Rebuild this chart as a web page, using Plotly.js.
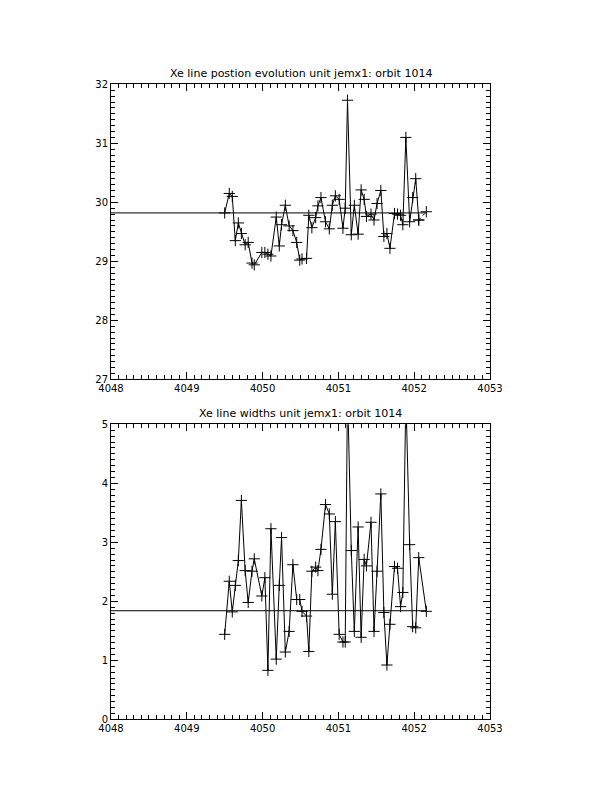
<!DOCTYPE html>
<html>
<head>
<meta charset="utf-8">
<script src="https://cdn.plot.ly/plotly-3.0.1.min.js"></script>
<style>
  body { margin: 0; background: #fff; }
  #plot { width: 612px; height: 792px; }
</style>
</head>
<body>
<div id="plot"></div>
<script>
// time axis, shared by both panels
var times = [4049.50, 4049.56, 4049.60, 4049.64, 4049.68, 4049.72, 4049.77, 4049.81, 4049.86, 4049.89,
  4049.99, 4050.03, 4050.07, 4050.11, 4050.18, 4050.22, 4050.25, 4050.30, 4050.35, 4050.40,
  4050.45, 4050.49, 4050.52, 4050.58, 4050.61, 4050.65, 4050.70, 4050.73, 4050.77, 4050.83,
  4050.88, 4050.92, 4050.96, 4051.01, 4051.06, 4051.09, 4051.12, 4051.17, 4051.21, 4051.26,
  4051.30, 4051.34, 4051.37, 4051.43, 4051.47, 4051.51, 4051.56, 4051.60, 4051.64, 4051.68,
  4051.74, 4051.78, 4051.82, 4051.85, 4051.89, 4051.94, 4051.98, 4052.02, 4052.06, 4052.16];

var positions = [29.82, 30.15, 30.10, 29.35, 29.65, 29.47, 29.28, 29.32, 28.97, 28.94,
  29.15, 29.15, 29.12, 29.09, 29.75, 29.26, 29.62, 29.95, 29.60, 29.52,
  29.32, 29.02, 29.04, 29.05, 29.78, 29.57, 29.74, 29.94, 30.08, 29.67,
  29.55, 29.95, 30.11, 30.05, 29.56, 29.90, 31.73, 29.45, 29.95, 29.46,
  30.21, 30.05, 29.76, 29.80, 29.70, 29.98, 30.20, 29.42, 29.47, 29.22,
  29.81, 29.80, 29.78, 29.62, 31.10, 29.67, 30.08, 30.40, 29.70, 29.84];

var widths = [1.44, 2.34, 1.82, 2.27, 2.69, 3.71, 2.52, 1.98, 2.51, 2.72,
  2.09, 2.40, 0.83, 3.23, 1.02, 2.27, 3.08, 1.14, 1.49, 2.62,
  2.03, 2.03, 1.83, 1.75, 1.15, 2.51, 2.58, 2.52, 2.88, 3.64,
  3.48, 2.12, 3.35, 1.44, 1.31, 1.31, 5.60, 2.86, 1.49, 3.26,
  1.39, 2.71, 2.60, 3.34, 1.49, 2.51, 3.82, 1.81, 0.92, 1.61,
  2.59, 2.56, 1.91, 2.15, 5.50, 2.96, 1.57, 1.55, 2.74, 1.83];

var meanPosition = 29.82;
var meanWidth = 1.84;

var xRange = [4048, 4053];
var posRange = [27, 32];
var widthRange = [0, 5];

var topTitle = 'Xe line postion evolution unit jemx1: orbit 1014';
var bottomTitle = 'Xe line widths unit jemx1: orbit 1014';

var n = times.length;
var lastT = times[n - 1];

var fnt = {family: 'DejaVu Sans, sans-serif', size: 10, color: '#000'};
var plus = {symbol: 'cross-thin-open', size: 8, line: {color: '#000', width: 1}};

function cross(x, y, xa, ya, dash) {
  return {
    x: x, y: y, xaxis: xa, yaxis: ya,
    type: 'scatter', mode: 'lines+markers',
    line: {color: '#000', width: 1, dash: dash || 'solid'},
    marker: plus, hoverinfo: 'skip'
  };
}

function meanLine(val, xa, ya) {
  return {
    x: [xRange[0], lastT], y: [val, val], xaxis: xa, yaxis: ya,
    type: 'scatter', mode: 'lines',
    line: {color: '#000', width: 1}, hoverinfo: 'skip'
  };
}

var data = [
  meanLine(meanPosition, 'x', 'y'),
  cross(times.slice(0, n - 1), positions.slice(0, n - 1), 'x', 'y'),
  // last segment of the top curve is dotted in the original
  cross(times.slice(n - 2), positions.slice(n - 2), 'x', 'y', 'dot'),
  meanLine(meanWidth, 'x2', 'y2'),
  cross(times, widths, 'x2', 'y2')
];

function xax(anchor) {
  return {
    anchor: anchor, domain: [111 / 612, 490 / 612], range: xRange,
    dtick: 1, tick0: 4048, ticks: 'inside', ticklen: 7, tickwidth: 1, tickcolor: '#000',
    minor: {dtick: 0.1, ticks: 'inside', ticklen: 4, tickwidth: 1, tickcolor: '#000'},
    showline: true, linecolor: '#000', linewidth: 1, mirror: 'ticks',
    showgrid: false, zeroline: false, tickformat: 'd', tickfont: fnt
  };
}

function yax(anchor, dom, rng) {
  return {
    anchor: anchor, domain: dom, range: rng,
    dtick: 1, ticks: 'inside', ticklen: 7, tickwidth: 1, tickcolor: '#000',
    minor: {dtick: 0.1, ticks: 'inside', ticklen: 4, tickwidth: 1, tickcolor: '#000'},
    showline: true, linecolor: '#000', linewidth: 1, mirror: 'ticks',
    showgrid: false, zeroline: false, tickfont: fnt
  };
}

var topDom = [1 - 379.3 / 792, 1 - 84.3 / 792];
var botDom = [1 - 719.3 / 792, 1 - 424.3 / 792];

var layout = {
  width: 612, height: 792,
  margin: {l: 0, r: 0, t: 0, b: 0},
  paper_bgcolor: '#fff', plot_bgcolor: '#fff',
  showlegend: false,
  font: fnt,
  xaxis: xax('y'),
  yaxis: yax('x', topDom, posRange),
  xaxis2: xax('y2'),
  yaxis2: yax('x2', botDom, widthRange),
  annotations: [
    {text: topTitle, xref: 'paper', yref: 'paper', x: 300.5 / 612, y: topDom[1] + 2 / 792,
     xanchor: 'center', yanchor: 'bottom', showarrow: false, font: {family: fnt.family, size: 11, color: '#000'}},
    {text: bottomTitle, xref: 'paper', yref: 'paper', x: 300.5 / 612, y: botDom[1] + 2 / 792,
     xanchor: 'center', yanchor: 'bottom', showarrow: false, font: {family: fnt.family, size: 11, color: '#000'}}
  ]
};

Plotly.newPlot('plot', data, layout, {staticPlot: true});
</script>
</body>
</html>
